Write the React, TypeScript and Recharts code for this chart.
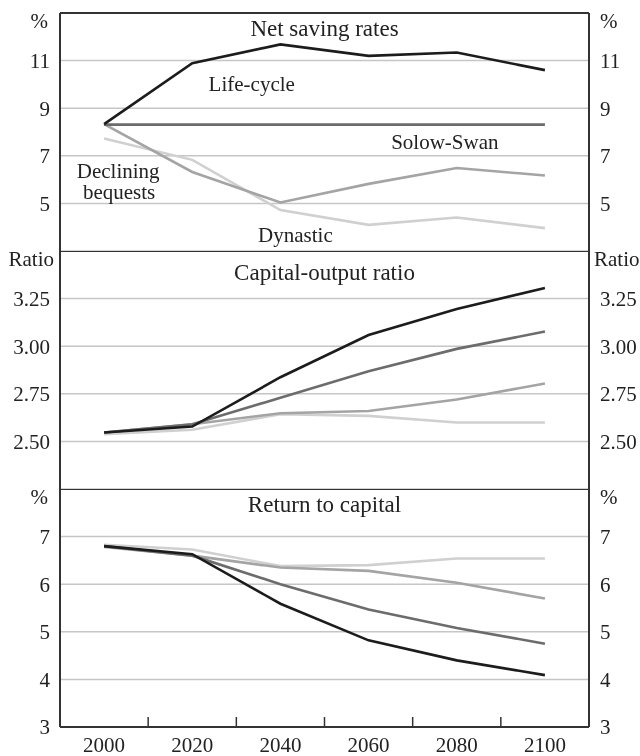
import React from 'react';
import { LineChart, Line, XAxis, YAxis, CartesianGrid, ReferenceLine, ReferenceDot } from 'recharts';

const years = [2000, 2020, 2040, 2060, 2080, 2100];
const xTicks = [2000, 2010, 2020, 2030, 2040, 2050, 2060, 2070, 2080, 2090, 2100];

// net saving rates, %
const lifeCycleSaving = [8.33, 10.89, 11.68, 11.2, 11.34, 10.6];
const solowSaving = [8.31, 8.31, 8.31, 8.31, 8.31, 8.31];
const bequestsSaving = [8.33, 6.32, 5.04, 5.82, 6.49, 6.17];
const dynasticSaving = [7.73, 6.83, 4.72, 4.1, 4.41, 3.96];

// capital-output ratio
const lifeCycleKY = [2.547, 2.578, 2.837, 3.059, 3.195, 3.306];
const solowKY = [2.547, 2.59, 2.729, 2.868, 2.986, 3.077];
const bequestsKY = [2.547, 2.59, 2.648, 2.66, 2.72, 2.804];
const dynasticKY = [2.538, 2.561, 2.643, 2.634, 2.599, 2.599];

// return to capital, %
const lifeCycleR = [6.8, 6.63, 5.59, 4.82, 4.4, 4.09];
const solowR = [6.8, 6.6, 6.0, 5.47, 5.08, 4.75];
const bequestsR = [6.78, 6.6, 6.35, 6.28, 6.03, 5.7];
const dynasticR = [6.83, 6.73, 6.38, 6.4, 6.54, 6.54];

const savingTicks = [5, 7, 9, 11, 13];
const kyTicks = [2.5, 2.75, 3.0, 3.25, 3.5];
const returnTicks = [3, 4, 5, 6, 7, 8];

const FONT = '"Liberation Serif", "Times New Roman", serif';
const INK = '#222';
const FRAME = '#333';

const rows = (a: number[], b: number[], c: number[], d: number[]) =>
  years.map((year, i) => ({ year, lifeCycle: a[i], solow: b[i], bequests: c[i], dynastic: d[i] }));

const savingData = rows(lifeCycleSaving, solowSaving, bequestsSaving, dynasticSaving);
const kyData = rows(lifeCycleKY, solowKY, bequestsKY, dynasticKY);
const returnData = rows(lifeCycleR, solowR, bequestsR, dynasticR);

const YTick = (props: any) => {
  const { x, y, payload, side, unit, top, fmt } = props;
  const isUnit = payload.value === top;
  let dx = 0;
  if (isUnit) dx = side === 'left' ? (unit === 'Ratio' ? 4 : -2) : unit === 'Ratio' ? -6 : 0;
  return (
    <text
      x={x + dx}
      y={y + (isUnit ? 8 : 0)}
      dy="0.35em"
      textAnchor={side === 'left' ? 'end' : 'start'}
      fontFamily={FONT}
      fontSize={21}
      fill={INK}
    >
      {isUnit ? unit : fmt(payload.value)}
    </text>
  );
};

const XTick = (props: any) => {
  const { x, y, payload } = props;
  if (payload.value % 20 === 0) {
    return (
      <text x={x} y={y + 18} dy="0.35em" textAnchor="middle" fontFamily={FONT} fontSize={21} fill={INK}>
        {payload.value}
      </text>
    );
  }
  return <line x1={x} x2={x} y1={y} y2={y - 10} stroke={FRAME} strokeWidth={1.5} />;
};

const label = (value: string, size = 21) => ({
  value,
  position: 'center' as const,
  fontFamily: FONT,
  fontSize: size,
  fill: INK,
});

type Note = { x: number; y: number; text: string; size?: number };

function Panel(p: {
  data: any[];
  domain: [number, number];
  ticks: number[];
  unit: string;
  fmt: (v: number) => string;
  height: number;
  top: number;
  showX?: boolean;
  notes: Note[];
}) {
  const tickFor = (side: string) => (t: any) => (
    <YTick {...t} side={side} unit={p.unit} top={p.domain[1]} fmt={p.fmt} />
  );
  return (
    <LineChart width={632} height={p.height} data={p.data} margin={{ top: p.top, right: 0, left: 0, bottom: 0 }}>
      <CartesianGrid vertical={false} stroke="#c6c6c6" strokeWidth={1.5} />
      <XAxis
        dataKey="year"
        type="number"
        domain={[1990, 2110]}
        ticks={xTicks}
        interval={0}
        hide={!p.showX}
        height={29}
        tickSize={0}
        tickMargin={0}
        tickLine={false}
        axisLine={{ stroke: FRAME, strokeWidth: 2 }}
        tick={<XTick />}
      />
      <YAxis
        domain={p.domain}
        ticks={p.ticks}
        interval={0}
        width={52}
        tickSize={0}
        tickMargin={10}
        tickLine={false}
        axisLine={{ stroke: FRAME, strokeWidth: 2 }}
        tick={tickFor('left')}
      />
      <YAxis
        yAxisId="right"
        orientation="right"
        domain={p.domain}
        ticks={p.ticks}
        interval={0}
        width={51}
        tickSize={0}
        tickMargin={11}
        tickLine={false}
        axisLine={{ stroke: FRAME, strokeWidth: 2 }}
        tick={tickFor('right')}
      />
      <ReferenceLine y={p.domain[1]} stroke={FRAME} strokeWidth={2} />
      <Line dataKey="dynastic" stroke="#d0d0d0" strokeWidth={2.6} dot={false} isAnimationActive={false} />
      <Line dataKey="bequests" stroke="#a4a4a4" strokeWidth={2.6} dot={false} isAnimationActive={false} />
      {/* same domain on both sides, so this series can sit on the right axis */}
      <Line
        yAxisId="right"
        dataKey="solow"
        stroke="#6c6c6c"
        strokeWidth={2.6}
        dot={false}
        isAnimationActive={false}
      />
      <Line dataKey="lifeCycle" stroke="#1c1c1c" strokeWidth={2.6} dot={false} isAnimationActive={false} />
      {p.notes.map((n) => (
        <ReferenceDot
          key={n.text}
          x={n.x}
          y={n.y}
          r={0}
          fill="none"
          stroke="none"
          label={label(n.text, n.size)}
        />
      ))}
    </LineChart>
  );
}

export default function App() {
  return (
    <div style={{ position: 'fixed', left: 8, top: 8, width: 632 }}>
      <Panel
        data={savingData}
        domain={[3, 13]}
        ticks={savingTicks}
        unit="%"
        fmt={(v) => String(v)}
        height={243}
        top={5}
        notes={[
          { x: 2050, y: 12.38, text: 'Net saving rates', size: 23 },
          { x: 2033.5, y: 10.03, text: 'Life-cycle' },
          { x: 2077.3, y: 7.59, text: 'Solow-Swan' },
          { x: 2003.2, y: 6.37, text: 'Declining' },
          { x: 2003.4, y: 5.51, text: 'bequests' },
          { x: 2043.4, y: 3.68, text: 'Dynastic' },
        ]}
      />
      <Panel
        data={kyData}
        domain={[2.25, 3.5]}
        ticks={kyTicks}
        unit="Ratio"
        fmt={(v) => v.toFixed(2)}
        height={238}
        top={0}
        notes={[{ x: 2050, y: 3.39, text: 'Capital-output ratio', size: 23 }]}
      />
      <Panel
        data={returnData}
        domain={[3, 8]}
        ticks={returnTicks}
        unit="%"
        fmt={(v) => String(v)}
        height={267}
        top={0}
        showX
        notes={[{ x: 2050, y: 7.68, text: 'Return to capital', size: 23 }]}
      />
    </div>
  );
}
